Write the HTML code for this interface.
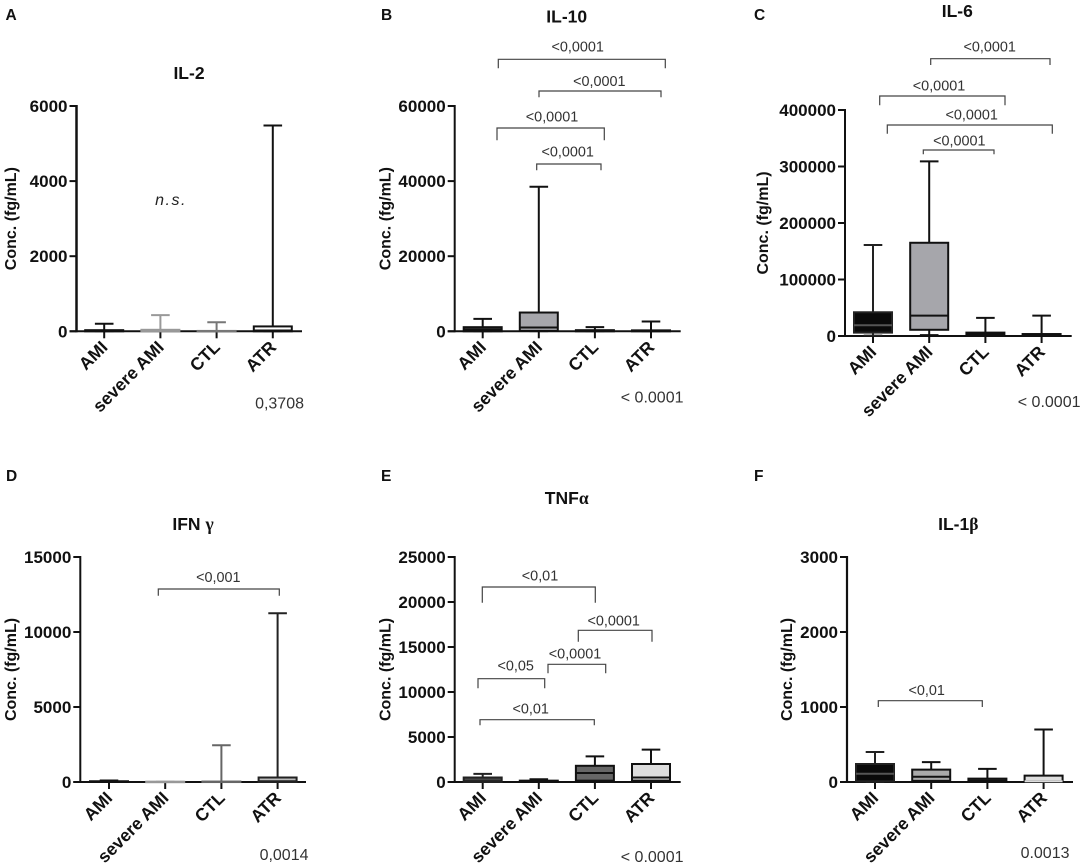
<!DOCTYPE html>
<html lang="en">
<head>
<meta charset="utf-8">
<title>Cytokine concentrations</title>
<style>
html,body{margin:0;padding:0;background:#fff;}
svg{display:block;font-family:"Liberation Sans",Arial,sans-serif;}
.letter{font-weight:bold;font-size:15.5px;fill:#111;}
.title{font-weight:bold;font-size:17.5px;fill:#111;text-anchor:middle;}
.greek{font-family:"Liberation Serif","DejaVu Serif",serif;}
.sig{font-size:14.4px;fill:#333;text-anchor:middle;}
.pval{font-size:16px;fill:#333;text-anchor:end;}
.br{fill:none;stroke:#444;stroke-width:1.2;}
.tick{font-weight:bold;font-size:17px;fill:#111;text-anchor:end;}
.ytitle{font-weight:bold;font-size:16px;fill:#111;text-anchor:middle;}
.cat{font-weight:bold;font-size:17.5px;fill:#111;text-anchor:end;}
</style>
</head>
<body>
<svg id="figure" width="1084" height="867" viewBox="0 0 1084 867" xmlns="http://www.w3.org/2000/svg">
  <rect x="0" y="0" width="1084" height="867" fill="#fff"/>

  <text class="letter" x="5.5" y="20">A</text>
  <text class="letter" x="381" y="20">B</text>
  <text class="letter" x="754" y="20">C</text>
  <text class="letter" x="6" y="481">D</text>
  <text class="letter" x="381" y="481">E</text>
  <text class="letter" x="754" y="481">F</text>

  <text class="title" x="189" y="79">IL-2</text>
  <text class="title" x="566.7" y="22.5">IL-10</text>
  <text class="title" x="957.3" y="17">IL-6</text>
  <text class="title" x="193" y="530">IFN <tspan class="greek">γ</tspan></text>
  <text class="title" x="566.7" y="504">TNF<tspan class="greek">α</tspan></text>
  <text class="title" x="958.3" y="530">IL-1<tspan class="greek">β</tspan></text>

  <text x="171" y="205" text-anchor="middle" font-style="italic" font-size="16" letter-spacing="1.5" fill="#222">n.s.</text>

  <text class="pval" x="304" y="408.5">0,3708</text>
  <text class="pval" x="683.5" y="402.5">&lt; 0.0001</text>
  <text class="pval" x="1080.5" y="407">&lt; 0.0001</text>
  <text class="pval" x="308.5" y="860">0,0014</text>
  <text class="pval" x="683.5" y="862">&lt; 0.0001</text>
  <text class="pval" x="1069.5" y="858">0.0013</text>

  <g>
    <path class="br" d="M498.3 68.3V59.3H665.3V68.3"/>
    <text class="sig" x="577.7" y="51.7">&lt;0,0001</text>
    <path class="br" d="M539 97.3V91H661V97.3"/>
    <text class="sig" x="599.3" y="86">&lt;0,0001</text>
    <path class="br" d="M497 140.3V128H604.3V140.3"/>
    <text class="sig" x="552" y="121.7">&lt;0,0001</text>
    <path class="br" d="M536.7 170.3V164H601V170.3"/>
    <text class="sig" x="567.7" y="156.7">&lt;0,0001</text>
  </g>
  <g>
    <path class="br" d="M930.7 65V58.7H1050V65"/>
    <text class="sig" x="989.7" y="51.7">&lt;0,0001</text>
    <path class="br" d="M879.7 105.3V96H1005V105.3"/>
    <text class="sig" x="939" y="90.7">&lt;0,0001</text>
    <path class="br" d="M887.3 133.7V125H1052.3V133.7"/>
    <text class="sig" x="971.7" y="119.3">&lt;0,0001</text>
    <path class="br" d="M923.3 154.3V150H994V154.3"/>
    <text class="sig" x="959.3" y="145.7">&lt;0,0001</text>
  </g>
  <g>
    <path class="br" d="M158.3 595.7V589H279.3V595.7"/>
    <text class="sig" x="218.3" y="582">&lt;0,001</text>
  </g>
  <g>
    <path class="br" d="M482.3 602.7V587H595.3V602.7"/>
    <text class="sig" x="540" y="580.7">&lt;0,01</text>
    <path class="br" d="M578.3 641.7V630.3H652V641.7"/>
    <text class="sig" x="613.7" y="625.7">&lt;0,0001</text>
    <path class="br" d="M548 673.3V664.3H605.7V673.3"/>
    <text class="sig" x="575" y="658.3">&lt;0,0001</text>
    <path class="br" d="M478 688.3V678.7H544.7V688.3"/>
    <text class="sig" x="515.7" y="670.7">&lt;0,05</text>
    <path class="br" d="M480 725.3V719.7H594.3V725.3"/>
    <text class="sig" x="530.7" y="713.3">&lt;0,01</text>
  </g>
  <g>
    <path class="br" d="M878.3 707V700.7H982.3V707"/>
    <text class="sig" x="926.7" y="695">&lt;0,01</text>
  </g>
</svg>

<script>
// Shared categories
const categories = ["AMI", "severe AMI", "CTL", "ATR"];

// IL-2
const il2Ticks = [0, 2000, 4000, 6000];
const il2High = [200, 430, 240, 5480];
const il2Q3 = [30, 40, 10, 130];
const il2Median = [10, 10, 5, 20];
const il2Q1 = [0, 0, 0, 0];
const il2Low = [0, 0, 0, 0];

// IL-10
const il10Ticks = [0, 20000, 40000, 60000];
const il10High = [3300, 38500, 1100, 2600];
const il10Q3 = [1100, 5000, 300, 250];
const il10Median = [400, 1000, 100, 100];
const il10Q1 = [0, 100, 0, 0];
const il10Low = [0, 0, 0, 0];

// IL-6
const il6Ticks = [0, 100000, 200000, 300000, 400000];
const il6High = [161000, 309000, 32000, 36000];
const il6Q3 = [42000, 165000, 6000, 3500];
const il6Median = [19000, 36000, 2000, 1000];
const il6Q1 = [6000, 11000, 0, 0];
const il6Low = [1000, 2000, 0, 0];

// IFN gamma
const ifnTicks = [0, 5000, 10000, 15000];
const ifnHigh = [100, 20, 2450, 11250];
const ifnQ3 = [50, 20, 30, 300];
const ifnMedian = [10, 5, 5, 50];
const ifnQ1 = [0, 0, 0, 0];
const ifnLow = [0, 0, 0, 0];

// TNF alpha
const tnfTicks = [0, 5000, 10000, 15000, 20000, 25000];
const tnfHigh = [900, 300, 2850, 3600];
const tnfQ3 = [500, 150, 1800, 2000];
const tnfMedian = [100, 50, 1000, 500];
const tnfQ1 = [0, 0, 150, 150];
const tnfLow = [0, 0, 0, 0];

// IL-1 beta
const il1Ticks = [0, 1000, 2000, 3000];
const il1High = [400, 265, 175, 700];
const il1Q3 = [240, 165, 45, 85];
const il1Median = [110, 70, 15, 10];
const il1Q1 = [10, 15, 0, 10];
const il1Low = [0, 0, 0, 0];

const svgNS = "http://www.w3.org/2000/svg";
const fig = document.getElementById("figure");

function mk(parent, tag, attrs, text) {
  const el = document.createElementNS(svgNS, tag);
  for (const k in attrs) el.setAttribute(k, attrs[k]);
  if (text !== undefined) el.textContent = text;
  parent.appendChild(el);
  return el;
}

function drawPanel(p) {
  const g = mk(fig, "g", {});
  
  

  const maxTick = p.ticks[p.ticks.length - 1];
  const yScale = v => p.y0 - (v / maxTick) * (p.y0 - p.yTop);
  const xScale = i => p.x0 + p.catStart + i * p.catStep;

  // y title
  const yt = mk(g, "text", {
    "class": "ytitle",
    transform: "translate(" + (p.x0 - p.titleGap) + "," + ((p.y0 + p.yTop) / 2 + p.titleShift) + ") rotate(-90)"
  }, "Conc. (fg/mL)");
  
  

  // axes
  const yAxis = mk(g, "line", { x1: p.x0, x2: p.x0, y1: p.yTop - 1, y2: p.y0 + 1, stroke: "#111", "stroke-width": p.axisW });
  
  

  const xAxis = mk(g, "line", { x1: p.x0 - 7, x2: p.x1, y1: p.y0, y2: p.y0, stroke: "#111", "stroke-width": 2 });
  
  

  p.ticks.forEach(t => {
    const y = yScale(t);
    const tl = mk(g, "line", { x1: p.x0 - 7, x2: p.x0, y1: y, y2: y, stroke: "#111", "stroke-width": 2 });
    
    
    const tx = mk(g, "text", { "class": "tick", x: p.x0 - 9, y: y + 6 }, String(t));
    
    
  });

  categories.forEach((c, i) => {
    const x = xScale(i);
    const st = p.styles[i];

    const tm = mk(g, "line", { x1: x, x2: x, y1: p.y0, y2: p.y0 + 7, stroke: "#111", "stroke-width": 2 });
    
    

    const lb = mk(g, "text", {
      "class": "cat",
      transform: "translate(" + (x + 4.5) + "," + (p.y0 + 17) + ") rotate(-45)"
    }, c);
    
    

    const yHigh = yScale(p.high[i]);
    const yQ3 = yScale(p.q3[i]);
    const yMed = yScale(p.median[i]);
    const yQ1 = yScale(p.q1[i]);
    const yLow = yScale(p.low[i]);

    const whisker = mk(g, "line", { x1: x, x2: x, y1: yHigh, y2: yLow, stroke: st.s, "stroke-width": 2 });
    
    

    const capHigh = mk(g, "line", { x1: x - 9.3, x2: x + 9.3, y1: yHigh, y2: yHigh, stroke: st.s, "stroke-width": 2 });
    
    

    const capLow = mk(g, "line", { x1: x - 9.3, x2: x + 9.3, y1: yLow, y2: yLow, stroke: st.s, "stroke-width": 1.6 });
    
    

    const box = mk(g, "rect", {
      x: x - 19, y: yQ3, width: 38, height: Math.max(0.5, yQ1 - yQ3),
      fill: st.f, stroke: st.s, "stroke-width": 2
    });
    
    

    const med = mk(g, "line", { x1: x - 19, x2: x + 19, y1: yMed, y2: yMed, stroke: st.m, "stroke-width": 2 });
    
    
  });
}

drawPanel({
  id: "il-2", ticks: il2Ticks, high: il2High, q3: il2Q3, median: il2Median, q1: il2Q1, low: il2Low,
  x0: 76.5, x1: 302, y0: 331.3, yTop: 106, catStart: 27.7, catStep: 56.2, axisW: 2.5, titleGap: 60.5, titleShift: 0,
  styles: [{f:"#222",s:"#111",m:"#111"},{f:"#aaa",s:"#999",m:"#999"},{f:"#888",s:"#777",m:"#777"},{f:"#fff",s:"#111",m:"#111"}]
});
drawPanel({
  id: "il-10", ticks: il10Ticks, high: il10High, q3: il10Q3, median: il10Median, q1: il10Q1, low: il10Low,
  x0: 454.7, x1: 680.7, y0: 331.3, yTop: 106, catStart: 28, catStep: 56.1, axisW: 2, titleGap: 64, titleShift: 0,
  styles: [{f:"#333",s:"#111",m:"#111"},{f:"#a6a6ab",s:"#111",m:"#111"},{f:"#111",s:"#111",m:"#111"},{f:"#333",s:"#111",m:"#111"}]
});
drawPanel({
  id: "il-6", ticks: il6Ticks, high: il6High, q3: il6Q3, median: il6Median, q1: il6Q1, low: il6Low,
  x0: 845, x1: 1071.7, y0: 336, yTop: 110, catStart: 28, catStep: 56.2, axisW: 2, titleGap: 77, titleShift: 0,
  styles: [{f:"#0a0a0a",s:"#222",m:"#555"},{f:"#a6a6ab",s:"#111",m:"#111"},{f:"#111",s:"#111",m:"#111"},{f:"#222",s:"#111",m:"#111"}]
});
drawPanel({
  id: "ifn-gamma", ticks: ifnTicks, high: ifnHigh, q3: ifnQ3, median: ifnMedian, q1: ifnQ1, low: ifnLow,
  x0: 80.3, x1: 306, y0: 782, yTop: 557, catStart: 28.7, catStep: 56.2, axisW: 2, titleGap: 64.3, titleShift: 0,
  styles: [{f:"#111",s:"#111",m:"#111"},{f:"#aaa",s:"#999",m:"#999"},{f:"#777",s:"#666",m:"#666"},{f:"#bbb",s:"#222",m:"#222"}]
});
drawPanel({
  id: "tnf-alpha", ticks: tnfTicks, high: tnfHigh, q3: tnfQ3, median: tnfMedian, q1: tnfQ1, low: tnfLow,
  x0: 454.7, x1: 680.7, y0: 782, yTop: 557, catStart: 28, catStep: 56.1, axisW: 2, titleGap: 64, titleShift: 0,
  styles: [{f:"#444",s:"#222",m:"#222"},{f:"#333",s:"#111",m:"#111"},{f:"#666",s:"#111",m:"#111"},{f:"#ddd",s:"#111",m:"#111"}]
});
drawPanel({
  id: "il-1-beta", ticks: il1Ticks, high: il1High, q3: il1Q3, median: il1Median, q1: il1Q1, low: il1Low,
  x0: 847, x1: 1073, y0: 782, yTop: 557, catStart: 28, catStep: 56.2, axisW: 2.2, titleGap: 55, titleShift: 0,
  styles: [{f:"#0a0a0a",s:"#222",m:"#555"},{f:"#aaa",s:"#111",m:"#111"},{f:"#333",s:"#111",m:"#111"},{f:"#ddd",s:"#111",m:"#ddd"}]
});
</script>
</body>
</html>
